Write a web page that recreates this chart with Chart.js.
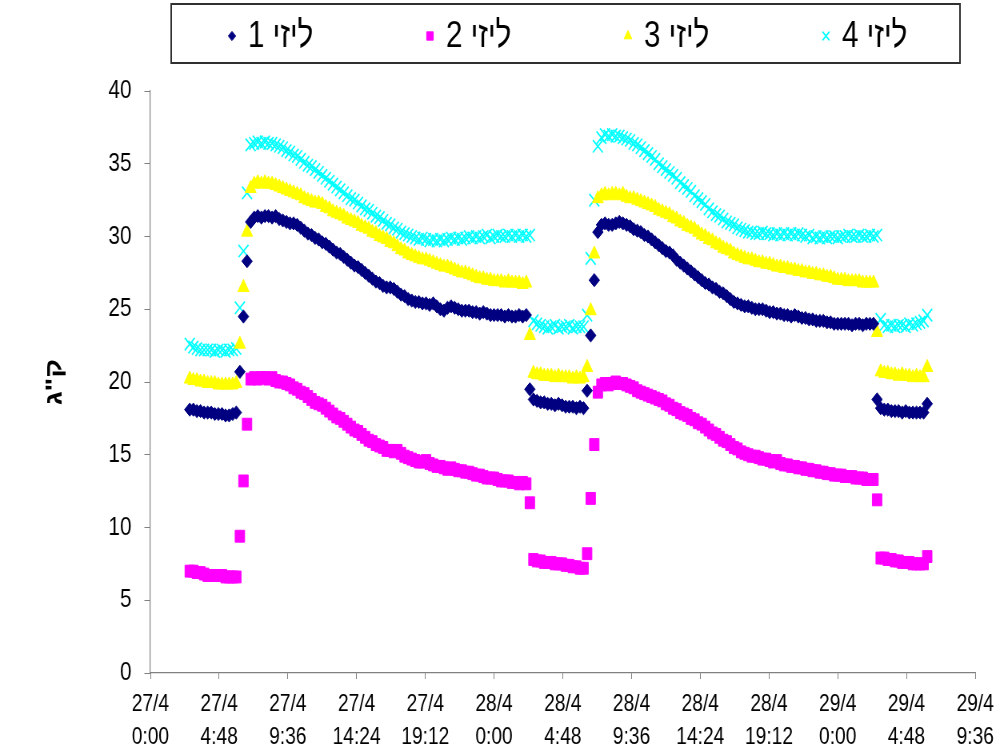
<!DOCTYPE html>
<html>
<head>
<meta charset="utf-8">
<script src="https://cdn.jsdelivr.net/npm/chart.js@4/dist/chart.umd.min.js"></script>
<style>
  html, body { margin: 0; padding: 0; background: #fff; overflow: hidden; }
  /* the chart is laid out wide and then narrowed to the page width */
  #wrap { width: 1255px; height: 751px; transform: scaleX(0.8); transform-origin: 0 0; }
</style>
</head>
<body>
<div id="wrap"><canvas id="chart" width="1255" height="751"></canvas></div>
<script>
// logger readings, one every 15 minutes, first one at 27/4 2:45
const firstReading = 165;   // minutes after 27/4 0:00
const readingStep = 15;     // minutes

const seriesNames = ['ליזי 1', 'ליזי 2', 'ליזי 3', 'ליזי 4'];

const lizzie1 = [
  18.1, 18.1, 18.0, 18.0, 17.9, 17.9, 17.9, 17.8, 17.8, 17.8, 17.7, 17.7, 17.8, 17.9,
  20.7, 24.5, 28.3,
  31.0, 31.3, 31.4, 31.3, 31.4, 31.4, 31.3, 31.4, 31.2, 31.1, 31.0, 30.9,
  30.9, 30.8, 30.6, 30.4, 30.2, 30.1, 29.9, 29.8, 29.6, 29.5, 29.3, 29.1,
  28.9, 28.8, 28.6, 28.4, 28.2, 28.0, 27.9, 27.7, 27.5, 27.3, 27.1, 26.9,
  26.8, 26.6, 26.5, 26.5, 26.4, 26.2, 26.0, 25.9, 25.7, 25.6, 25.5, 25.5,
  25.4, 25.4, 25.3, 25.4, 25.2, 25.0, 24.9, 25.1, 25.2, 25.1, 25.0, 24.9,
  24.9, 24.9, 24.8, 24.8, 24.7, 24.8, 24.7, 24.6, 24.6, 24.6, 24.6, 24.5,
  24.6, 24.5, 24.5, 24.6, 24.5, 24.6,
  19.5,
  18.8, 18.7, 18.6, 18.6, 18.5, 18.5, 18.4, 18.5, 18.4, 18.3, 18.3, 18.3, 18.2, 18.3, 18.2,
  19.4, 23.2, 27.0, 30.3,
  30.8, 30.9, 30.8, 30.8, 30.9, 31.0, 30.9, 30.8, 30.7, 30.5, 30.4, 30.3,
  30.1, 30.0, 29.8, 29.6, 29.4, 29.2, 29.0, 28.9, 28.7, 28.4, 28.2, 28.0,
  27.8, 27.6, 27.4, 27.2, 27.0, 26.8, 26.7, 26.5, 26.4, 26.2, 26.1, 25.9,
  25.7, 25.5, 25.4, 25.3, 25.2, 25.2, 25.1, 25.0, 25.0, 25.0, 24.9, 24.8,
  24.8, 24.7, 24.7, 24.6, 24.6, 24.5, 24.6, 24.5, 24.4, 24.4, 24.3, 24.3,
  24.2, 24.2, 24.2, 24.1, 24.1, 24.0, 24.0, 24.0, 24.0, 24.0, 23.9, 24.0,
  24.0, 23.9, 24.0, 24.0, 24.0,
  18.8,
  18.2, 18.1, 18.1, 18.0, 18.0, 18.0, 17.9, 18.0, 17.9, 17.9, 17.9, 17.9, 17.9, 18.5
];

const lizzie2 = [
  7.0, 7.0, 6.9, 6.9, 6.8, 6.7, 6.7, 6.7, 6.7, 6.7, 6.6, 6.6, 6.6, 6.6,
  9.4, 13.2, 17.1,
  20.2, 20.3, 20.2, 20.3, 20.3, 20.2, 20.3, 20.1, 20.0, 20.0, 19.9, 19.8,
  19.6, 19.5, 19.3, 19.2, 19.0, 18.8, 18.6, 18.5, 18.4, 18.2, 18.0, 17.8,
  17.6, 17.5, 17.3, 17.1, 16.9, 16.7, 16.6, 16.4, 16.2, 16.0, 15.9, 15.7,
  15.6, 15.5, 15.3, 15.3, 15.2, 15.3, 15.1, 14.9, 14.8, 14.7, 14.6, 14.5,
  14.5, 14.6, 14.4, 14.3, 14.2, 14.2, 14.1, 14.0, 14.1, 14.0, 13.9, 13.9,
  13.8, 13.8, 13.7, 13.6, 13.6, 13.5, 13.4, 13.4, 13.4, 13.3, 13.2, 13.2,
  13.2, 13.1, 13.1, 13.0, 13.1, 13.0,
  11.7,
  7.8, 7.7, 7.7, 7.6, 7.6, 7.6, 7.5, 7.5, 7.5, 7.4, 7.4, 7.3, 7.3, 7.2, 7.2,
  8.2, 12.0, 15.7, 19.3,
  19.8, 19.9, 19.8, 19.9, 20.0, 19.9, 19.9, 19.8, 19.7, 19.6, 19.4, 19.3,
  19.2, 19.1, 19.0, 18.9, 18.8, 18.7, 18.5, 18.4, 18.2, 18.1, 17.9, 17.8,
  17.7, 17.5, 17.4, 17.2, 17.1, 16.9, 16.7, 16.5, 16.4, 16.2, 16.0, 15.9,
  15.7, 15.5, 15.4, 15.2, 15.1, 15.0, 14.9, 14.9, 14.8, 14.7, 14.7, 14.6,
  14.5, 14.6, 14.4, 14.3, 14.3, 14.2, 14.2, 14.1, 14.1, 14.0, 14.0, 13.9,
  13.9, 13.8, 13.8, 13.7, 13.7, 13.6, 13.6, 13.6, 13.5, 13.5, 13.5, 13.4,
  13.4, 13.4, 13.3, 13.3, 13.3,
  11.9,
  7.9, 7.9, 7.8, 7.8, 7.7, 7.7, 7.6, 7.6, 7.6, 7.5, 7.5, 7.5, 7.5, 8.0
];

const lizzie3 = [
  20.2, 20.1, 20.1, 20.0, 20.0, 19.9, 19.9, 19.9, 19.8, 19.8, 19.8, 19.8, 19.8, 19.9,
  22.6, 26.5, 30.3,
  33.3, 33.6, 33.7, 33.6, 33.7, 33.6, 33.6, 33.5, 33.4, 33.3, 33.2, 33.1,
  33.0, 32.9, 32.8, 32.6, 32.5, 32.4, 32.3, 32.3, 32.2, 32.0, 31.9, 31.7,
  31.6, 31.5, 31.4, 31.2, 31.1, 31.0, 30.9, 30.7, 30.6, 30.5, 30.3, 30.2,
  30.0, 29.9, 29.8, 29.6, 29.5, 29.3, 29.1, 29.0, 28.8, 28.7, 28.6, 28.5,
  28.4, 28.4, 28.3, 28.2, 28.1, 28.0, 27.9, 27.9, 27.8, 27.7, 27.6, 27.5,
  27.5, 27.4, 27.3, 27.2, 27.1, 27.1, 27.0, 27.0, 26.9, 26.9, 26.9, 26.8,
  26.9, 26.8, 26.8, 26.8, 26.7, 26.8,
  23.2,
  20.6, 20.5, 20.5, 20.4, 20.4, 20.4, 20.3, 20.4, 20.3, 20.3, 20.3, 20.2, 20.3, 20.2, 20.3,
  21.0, 24.9, 28.8, 32.6,
  32.8, 32.9, 32.8, 32.9, 32.9, 32.8, 32.9, 32.7, 32.6, 32.6, 32.5, 32.4,
  32.3, 32.2, 32.1, 32.0, 31.8, 31.7, 31.6, 31.5, 31.3, 31.2, 31.0, 30.9,
  30.7, 30.6, 30.5, 30.3, 30.1, 30.0, 29.8, 29.7, 29.5, 29.4, 29.2, 29.1,
  29.0, 28.8, 28.7, 28.6, 28.5, 28.4, 28.4, 28.3, 28.2, 28.2, 28.1, 28.1,
  28.0, 27.9, 27.9, 27.8, 27.8, 27.7, 27.7, 27.6, 27.6, 27.5, 27.5, 27.4,
  27.4, 27.3, 27.3, 27.2, 27.2, 27.1, 27.0, 27.0, 27.0, 26.9, 26.9, 26.9,
  26.9, 26.8, 26.8, 26.8, 26.8,
  23.4,
  20.7, 20.6, 20.6, 20.5, 20.5, 20.4, 20.5, 20.4, 20.4, 20.3, 20.4, 20.3, 20.3, 21.0
];

const lizzie4 = [
  22.6, 22.4, 22.3, 22.2, 22.2, 22.2, 22.2, 22.1, 22.2, 22.2, 22.1, 22.2, 22.2, 22.3,
  25.1, 29.0, 33.0,
  36.3, 36.4, 36.5, 36.4, 36.5, 36.4, 36.4, 36.3, 36.2, 36.1, 35.9, 35.8,
  35.6, 35.5, 35.3, 35.1, 34.9, 34.8, 34.6, 34.4, 34.2, 34.0, 33.8, 33.6,
  33.4, 33.2, 33.0, 32.8, 32.6, 32.5, 32.3, 32.1, 31.9, 31.8, 31.6, 31.4,
  31.3, 31.1, 30.9, 30.8, 30.6, 30.5, 30.3, 30.2, 30.1, 30.0, 29.9, 29.8,
  29.9, 29.8, 29.7, 29.8, 29.7, 29.8, 29.7, 29.8, 29.9, 29.8, 29.9, 29.8,
  29.9, 30.0, 29.9, 30.0, 29.9, 30.0, 30.1, 29.9, 30.0, 30.1, 30.0, 30.0,
  30.1, 30.0, 30.1, 30.0, 30.1, 30.0,
  30.1,
  24.2, 24.0, 23.9, 23.8, 23.7, 23.8, 23.9, 23.7, 23.8, 23.8, 23.9, 23.7, 23.8, 23.8, 23.8,
  24.6, 28.5, 32.5, 36.2,
  36.8, 37.0, 36.9, 37.0, 36.9, 36.9, 36.8, 36.7, 36.6, 36.4, 36.3, 36.1,
  35.9, 35.7, 35.5, 35.3, 35.0, 34.8, 34.6, 34.4, 34.2, 34.0, 33.7, 33.5,
  33.3, 33.1, 32.8, 32.6, 32.4, 32.2, 31.9, 31.7, 31.5, 31.4, 31.2, 31.0,
  30.9, 30.8, 30.6, 30.5, 30.4, 30.3, 30.3, 30.2, 30.2, 30.3, 30.2, 30.2,
  30.1, 30.2, 30.1, 30.2, 30.1, 30.2, 30.1, 30.2, 30.1, 30.0, 30.1, 29.9,
  30.0, 29.9, 30.0, 29.9, 30.0, 30.0, 29.9, 30.0, 30.0, 30.1, 30.0, 30.0,
  30.1, 30.0, 30.0, 30.1, 30.0,
  30.1,
  24.3, 23.9, 23.8, 23.9, 23.8, 23.9, 23.9, 23.8, 24.0, 23.9, 24.0, 24.1, 24.2, 24.6
];

// x axis: every 4:48 from 27/4 0:00
const tickLabels = [
  ['27/4', '0:00'], ['27/4', '4:48'], ['27/4', '9:36'], ['27/4', '14:24'], ['27/4', '19:12'],
  ['28/4', '0:00'], ['28/4', '4:48'], ['28/4', '9:36'], ['28/4', '14:24'], ['28/4', '19:12'],
  ['29/4', '0:00'], ['29/4', '4:48'], ['29/4', '9:36']
];
const tickStep = 288; // minutes

const FONT = "'Liberation Sans', Arial, sans-serif";

function toPoints(values) {
  return values.map((v, i) => ({ x: firstReading + i * readingStep, y: v }));
}

const styles = [
  { color: '#000080', pointStyle: 'rectRot', radius: 6.6, border: 1 },
  { color: '#FF00FF', pointStyle: 'rect', radius: 8.4, border: 1 },
  { color: '#FFFF00', pointStyle: 'triangle', radius: 8, border: 1 },
  { color: '#00FFFF', pointStyle: 'crossRot', radius: 8.8, border: 1.7 }
];

const datasets = [lizzie1, lizzie2, lizzie3, lizzie4].map((vals, i) => ({
  label: seriesNames[i],
  data: toPoints(vals),
  pointStyle: styles[i].pointStyle,
  pointRadius: styles[i].radius,
  pointBorderWidth: styles[i].border,
  backgroundColor: styles[i].color,
  borderColor: styles[i].color,
  showLine: false
}));

// boxed legend across the top
const boxedLegend = {
  id: 'boxedLegend',
  afterDraw(chart) {
    const ctx = chart.ctx;
    ctx.save();
    ctx.strokeStyle = '#303030';
    ctx.lineWidth = 2;
    ctx.strokeRect(214, 4, 986, 59);
    ctx.font = '37px ' + FONT;
    ctx.textBaseline = 'middle';
    ctx.textAlign = 'left';
    ctx.direction = 'rtl';
    chart.data.datasets.forEach((ds, i) => {
      const x = 290 + i * 247.5;
      const y = 36;
      ctx.fillStyle = ds.backgroundColor;
      ctx.strokeStyle = ds.borderColor;
      ctx.lineWidth = ds.pointBorderWidth;
      Chart.helpers.drawPoint(ctx, {
        pointStyle: ds.pointStyle,
        radius: ds.pointRadius * 0.7,
        borderWidth: ds.pointBorderWidth,
        rotation: 0
      }, x, y);
      ctx.fillStyle = '#000';
      ctx.fillText(ds.label, x + 20, y + 1);
    });
    ctx.restore();
  }
};

new Chart(document.getElementById('chart'), {
  type: 'scatter',
  data: { datasets },
  plugins: [boxedLegend],
  options: {
    responsive: false,
    animation: false,
    layout: { padding: { left: 0, right: 36, top: 91, bottom: 0 } },
    plugins: {
      legend: { display: false },
      tooltip: { enabled: false }
    },
    scales: {
      x: {
        type: 'linear',
        min: 0,
        max: tickStep * (tickLabels.length - 1),
        afterBuildTicks: scale => {
          scale.ticks = tickLabels.map((_, i) => ({ value: i * tickStep }));
        },
        afterFit: scale => { scale.height = 78; },
        grid: { drawOnChartArea: false, color: '#808080', tickLength: 6 },
        border: { color: '#808080', width: 1.2 },
        ticks: {
          color: '#000',
          autoSkip: false,
          maxRotation: 0,
          padding: 9,
          font: { family: FONT, size: 24, lineHeight: 1.38 },
          callback: (value, index) => tickLabels[index]
        }
      },
      y: {
        min: 0,
        max: 40,
        afterFit: scale => { scale.width = 188; },
        grid: { drawOnChartArea: false, color: '#808080', tickLength: 7.5 },
        border: { color: '#808080', width: 1.2 },
        ticks: {
          stepSize: 5,
          color: '#000',
          padding: 16,
          font: { family: FONT, size: 26 }
        },
        title: {
          display: true,
          text: 'ק"ג',
          color: '#000',
          font: { family: FONT, size: 29, weight: 'bold' },
          padding: { top: 52, bottom: 0 }
        }
      }
    }
  }
});
</script>
</body>
</html>
